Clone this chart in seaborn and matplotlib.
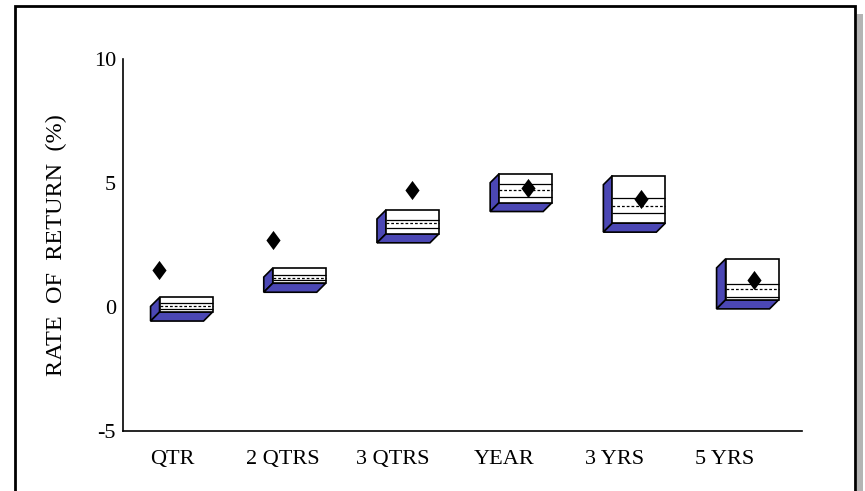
import numpy as np
import pandas as pd
import matplotlib
matplotlib.use("Agg")
import matplotlib.pyplot as plt
from matplotlib.patches import Polygon, Rectangle
from matplotlib.path import Path
import seaborn as sns

# ---------------- data ----------------
categories = ["QTR", "2 QTRS", "3 QTRS", "YEAR", "3 YRS", "5 YRS"]
box_top    = [0.38, 1.56, 3.90, 5.36, 5.28, 1.93]
upper_q    = [0.15, 1.28, 3.50, 4.96, 4.38, 0.92]
median     = [0.04, 1.17, 3.37, 4.69, 4.08, 0.70]
lower_q    = [-0.09, 1.07, 3.17, 4.44, 3.78, 0.40]
box_bottom = [-0.21, 0.95, 2.94, 4.20, 3.37, 0.28]
portfolio  = [1.48, 2.69, 4.72, 4.80, 4.35, 1.08]
y_ticks    = [-5, 0, 5, 10]

# ---------------- layout constants ----------------
W, H = 865, 491
BOX_SHIFT, BOX_SPREAD = 0.127, 1.0235   # front face centre relative to label
BOX_W = 0.479
DIAMOND_SHIFT = [-0.24, -0.24, 0.0, 0.02, 0.02, 0.02]
BLUE = "#4b47b4"

sns.set_theme(style="white")
plt.rcParams["font.family"] = ["Liberation Serif", "DejaVu Serif"]

fig = plt.figure(figsize=(W / 100, H / 100), dpi=100)
fig.patch.set_facecolor("white")
ax_l, ax_r, ax_t, ax_b = 123, 802, 58.5, 431
ax = fig.add_axes([ax_l / W, 1 - ax_b / H, (ax_r - ax_l) / W, (ax_b - ax_t) / H])
ax.set_facecolor("white")

xlim = (-0.443, 5.696)
ylim = (-5, 10)
ax.set_xlim(*xlim)
ax.set_ylim(*ylim)

px_x = (xlim[1] - xlim[0]) / (ax_r - ax_l)
px_y = (ylim[1] - ylim[0]) / (ax_b - ax_t)
dx = -9 * px_x
dy = -9 * px_y

df = pd.DataFrame({
    "cat": categories, "top": box_top, "uq": upper_q, "med": median,
    "lq": lower_q, "bot": box_bottom, "port": portfolio,
})
df["pos"] = np.arange(len(df))
df["bx"] = BOX_SHIFT + BOX_SPREAD * df["pos"]
df["dx"] = df["bx"] + np.array(DIAMOND_SHIFT)

# 3-D side faces
for _, r in df.iterrows():
    xl = r.bx - BOX_W / 2
    xr = r.bx + BOX_W / 2
    left = Polygon([(xl, r.top), (xl, r.bot), (xl + dx, r.bot + dy), (xl + dx, r.top + dy)],
                   closed=True, facecolor=BLUE, edgecolor="black", lw=1.2, zorder=2,
                   joinstyle="miter")
    bottom = Polygon([(xl, r.bot), (xr, r.bot), (xr + dx, r.bot + dy), (xl + dx, r.bot + dy)],
                     closed=True, facecolor=BLUE, edgecolor="black", lw=1.2, zorder=2,
                     joinstyle="miter")
    ax.add_patch(left)
    ax.add_patch(bottom)

# front faces
ax.bar(df["bx"], df["top"] - df["bot"], bottom=df["bot"], width=BOX_W,
       color="white", edgecolor="black", linewidth=1.2, zorder=3)
# inner lines
ax.hlines(df["uq"], df["bx"] - BOX_W / 2, df["bx"] + BOX_W / 2, color="black", lw=0.9, zorder=4)
ax.hlines(df["lq"], df["bx"] - BOX_W / 2, df["bx"] + BOX_W / 2, color="black", lw=0.9, zorder=4)
ax.hlines(df["med"], df["bx"] - BOX_W / 2, df["bx"] + BOX_W / 2, color="black", lw=0.9,
          linestyles=(0, (2.2, 1.6)), zorder=4)

# diamonds
diamond = Path([(0, 1), (0.74, 0), (0, -1), (-0.74, 0), (0, 1)],
               [Path.MOVETO, Path.LINETO, Path.LINETO, Path.LINETO, Path.CLOSEPOLY])
sns.scatterplot(data=df, x="dx", y="port", marker=diamond, s=190, color="black",
                linewidth=0, ax=ax, zorder=6, legend=False)

ax.set_xlim(*xlim)
ax.set_ylim(*ylim)

# axes styling
for s in ["top", "right"]:
    ax.spines[s].set_visible(False)
for s in ["left", "bottom"]:
    ax.spines[s].set_color("black")
    ax.spines[s].set_linewidth(1.2)

ax.set_xticks(df["pos"])
ax.set_xticklabels(categories, fontsize=16)
ax.tick_params(axis="x", length=0, pad=14, colors="black")
ax.set_yticks(y_ticks)
ax.set_yticklabels([str(v) for v in y_ticks], fontsize=16)
ax.tick_params(axis="y", direction="in", length=10, width=1.2, pad=5, colors="black")
ax.set_xlabel("")
ax.set_ylabel("RATE  OF  RETURN  (%)", fontsize=17.5, color="black")
ax.yaxis.set_label_coords(-0.0825, 0.5)

# outer frame with shadow
fig.patches.append(Rectangle((857 / W, 0), 6 / W, 1 - 14 / H, transform=fig.transFigure,
                             facecolor="#b4b4b4", edgecolor="none", zorder=0))
fig.patches.append(Rectangle((15 / W, -0.05), (855 - 15) / W, 1 + 0.05 - 6 / H,
                             transform=fig.transFigure, fill=False, edgecolor="black",
                             lw=2.0, zorder=1))

fig.savefig("out.png", dpi=100)
